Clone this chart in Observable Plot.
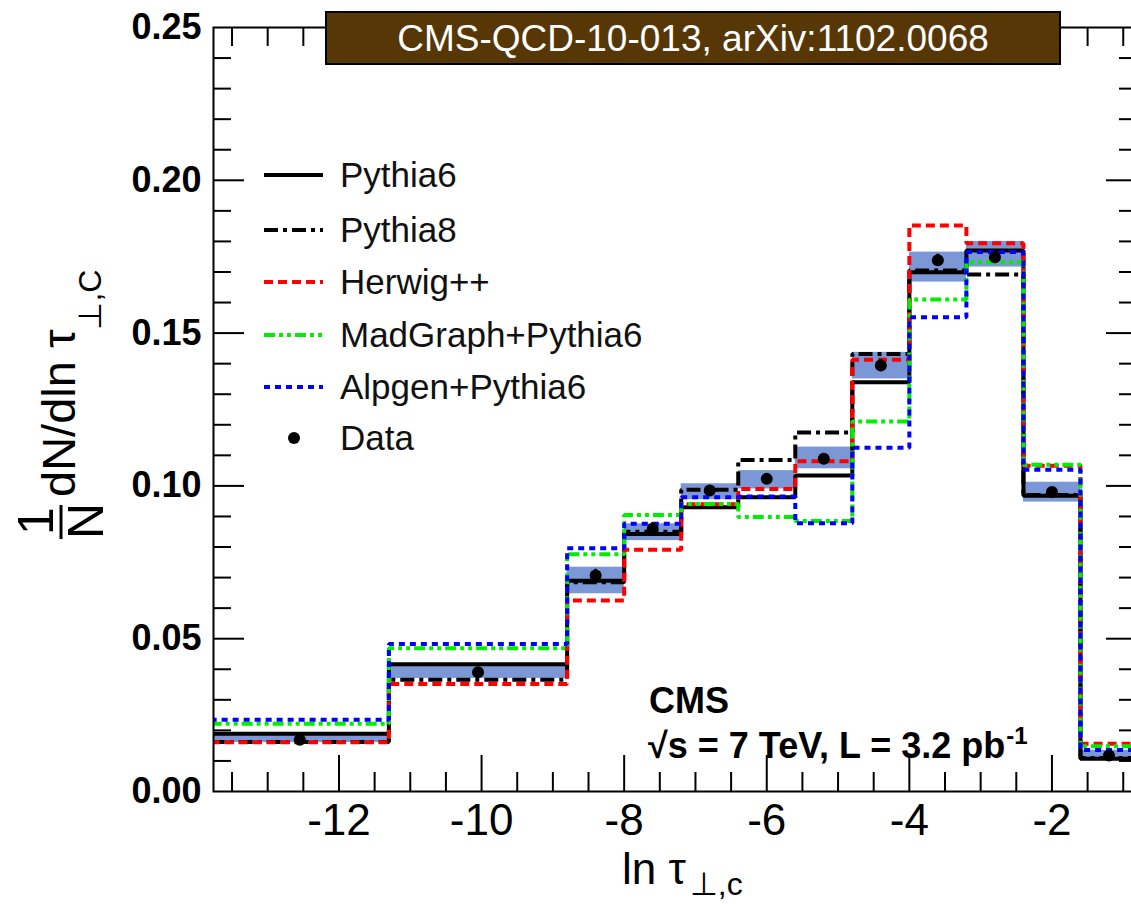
<!DOCTYPE html>
<html>
<head>
<meta charset="utf-8">
<script src="https://cdn.jsdelivr.net/npm/d3@7"></script>
<script src="https://cdn.jsdelivr.net/npm/@observablehq/plot@0.6"></script>
<style>
  html, body { margin: 0; padding: 0; background: #fff; overflow: hidden; }
  #chart { position: relative; width: 1131px; height: 904px; overflow: hidden; }
  #chart svg { max-width: none !important; font-family: "Liberation Sans", Arial, Helvetica, sans-serif; }
</style>
</head>
<body>
<div id="chart"></div>
<script>
// ---- data ----
const binEdges = [-13.8, -11.3, -8.8, -8.0, -7.2, -6.4, -5.6, -4.8, -4.0, -3.2, -2.4, -1.6, -0.8];
const pythia6  = [0.0189, 0.0416, 0.0690, 0.0843, 0.0930, 0.0963, 0.1034, 0.1339, 0.1699, 0.1770, 0.0968, 0.0107];
const pythia8  = [0.0162, 0.0366, 0.0685, 0.0850, 0.0987, 0.1085, 0.1175, 0.1432, 0.1705, 0.1692, 0.0970, 0.0110];
const herwig   = [0.0161, 0.0352, 0.0625, 0.0791, 0.0940, 0.0990, 0.1081, 0.1413, 0.1852, 0.1794, 0.1066, 0.0156];
const madgraph = [0.0222, 0.0469, 0.0776, 0.0905, 0.0941, 0.0898, 0.0885, 0.1211, 0.1610, 0.1732, 0.1069, 0.0148];
const alpgen   = [0.0235, 0.0483, 0.0796, 0.0876, 0.0963, 0.0965, 0.0878, 0.1125, 0.1552, 0.1765, 0.1053, 0.0136];
const dataVal  = [0.0169, 0.0390, 0.0707, 0.0860, 0.0985, 0.1023, 0.1089, 0.1394, 0.1738, 0.1748, 0.0980, 0.0118];
const dataErr  = [0.0010, 0.0015, 0.0020, 0.0020, 0.0015, 0.0015, 0.0015, 0.0020, 0.0020, 0.0020, 0.0010, 0.0008];
const bandLo   = [0.0160, 0.0370, 0.0647, 0.0821, 0.0955, 0.0990, 0.1056, 0.1350, 0.1667, 0.1716, 0.0947, 0.0110];
const bandHi   = [0.0185, 0.0416, 0.0734, 0.0876, 0.1007, 0.1050, 0.1127, 0.1437, 0.1765, 0.1800, 0.1012, 0.0135];

const xTickLabels = [-12, -10, -8, -6, -4, -2];
const yTickLabels = [0, 0.05, 0.10, 0.15, 0.20, 0.25];
const xDomain = [-13.76, -0.8];
const yDomain = [0, 0.25];

const series = [
  {name: "Pythia6",          values: pythia6,  stroke: "#000000", dash: null},
  {name: "Pythia8",          values: pythia8,  stroke: "#000000", dash: "14,5,4,5"},
  {name: "Herwig++",         values: herwig,   stroke: "#ff0000", dash: "9,5"},
  {name: "MadGraph+Pythia6", values: madgraph, stroke: "#00ee00", dash: "11,4,4,4,4,4"},
  {name: "Alpgen+Pythia6",   values: alpgen,   stroke: "#0000ff", dash: "6,5"}
];

// ---- derived tables ----
const bins = dataVal.map((v, i) => ({
  x1: binEdges[i], x2: binEdges[i + 1], xc: (binEdges[i] + binEdges[i + 1]) / 2,
  v, err: dataErr[i], lo: bandLo[i], hi: bandHi[i]
}));
function steps(vals) {
  const pts = vals.map((v, i) => ({x: binEdges[i], y: v}));
  pts.push({x: binEdges[binEdges.length - 1], y: vals[vals.length - 1]});
  return pts;
}
const xMajor = d3.range(-12, -1, 2);
const xMinor = d3.range(-13.5, -0.9, 0.5).filter(v => !xMajor.includes(v));
const yMajor = [0.05, 0.10, 0.15, 0.20];
const yMinor = d3.range(1, 25).map(k => k / 100).filter(v => Math.round(v * 100) % 5 !== 0);

const W = 1140, H = 904;
const xL = xDomain[0], xR = xDomain[1], yB = yDomain[0], yT = yDomain[1];

const tickMarks = [];
tickMarks.push(Plot.ruleX(xMajor, {x: d => d, y1: () => yB, y2: () => yB, insetBottom: 36, stroke: "black", strokeWidth: 2}));
tickMarks.push(Plot.ruleX(xMinor, {x: d => d, y1: () => yB, y2: () => yB, insetBottom: 19, stroke: "black", strokeWidth: 2}));
tickMarks.push(Plot.ruleX(xMajor, {x: d => d, y1: () => yT, y2: () => yT, insetTop: 36, stroke: "black", strokeWidth: 2}));
tickMarks.push(Plot.ruleX(xMinor, {x: d => d, y1: () => yT, y2: () => yT, insetTop: 19, stroke: "black", strokeWidth: 2}));
tickMarks.push(Plot.ruleY(yMajor, {y: d => d, x1: () => xL, x2: () => xL, insetRight: -31, stroke: "black", strokeWidth: 2}));
tickMarks.push(Plot.ruleY(yMinor, {y: d => d, x1: () => xL, x2: () => xL, insetRight: -18, stroke: "black", strokeWidth: 2}));
tickMarks.push(Plot.ruleY(yMajor, {y: d => d, x1: () => xR, x2: () => xR, insetLeft: -31, stroke: "black", strokeWidth: 2}));
tickMarks.push(Plot.ruleY(yMinor, {y: d => d, x1: () => xR, x2: () => xR, insetLeft: -18, stroke: "black", strokeWidth: 2}));

const plot = Plot.plot({
  width: W, height: H,
  marginLeft: 213, marginRight: 3, marginTop: 27, marginBottom: 113,
  x: {domain: xDomain, label: null},
  y: {domain: yDomain, label: null},
  style: {fontFamily: "Liberation Sans, Arial, sans-serif", background: "white", overflow: "visible", maxWidth: "none"},
  marks: [
    Plot.rect(bins, {x1: "x1", x2: "x2", y1: "lo", y2: "hi", fill: "#7b97d6", clip: true}),
    ...series.map(s => Plot.line(steps(s.values), {
      x: "x", y: "y", curve: "step-after", stroke: s.stroke, strokeWidth: 4,
      strokeDasharray: s.dash, strokeLinejoin: "miter", strokeLinecap: "butt", clip: true
    })),
    Plot.ruleX(bins, {x: "xc", y1: d => d.v - d.err, y2: d => d.v + d.err, stroke: "black", strokeWidth: 3}),
    Plot.dot(bins, {x: "xc", y: "v", r: 6, fill: "black", stroke: "none"}),
    ...tickMarks,
    Plot.frame({stroke: "black", strokeWidth: 2}),
    Plot.axisX(xTickLabels, {anchor: "bottom", tickSize: 0, tickPadding: 12, fontSize: 44, tickFormat: d => String(d), label: null}),
    Plot.axisY(yTickLabels, {anchor: "left", tickSize: 0, tickPadding: 12, fontSize: 36, fontWeight: "bold", tickFormat: d3.format(".2f"), label: null})
  ]
});
document.getElementById("chart").appendChild(plot);

// ---- annotations: legend, axis titles, CMS label, header box ----
const svg = d3.select(plot);
const ff = "Liberation Sans, Arial, sans-serif";

// legend
const legendRows = [175, 230, 282, 335, 387];
const lg = svg.append("g").attr("text-anchor", "start");
series.forEach((s, i) => {
  lg.append("line").attr("x1", 264).attr("x2", 323).attr("y1", legendRows[i]).attr("y2", legendRows[i])
    .attr("stroke", s.stroke).attr("stroke-width", 4).attr("stroke-dasharray", s.dash);
  lg.append("text").attr("x", 340).attr("y", legendRows[i] + 12).attr("font-size", 35)
    .attr("font-family", ff).attr("fill", "#111").text(s.name);
});
lg.append("circle").attr("cx", 294).attr("cy", 438).attr("r", 6).attr("fill", "black");
lg.append("text").attr("x", 340).attr("y", 450).attr("font-size", 35).attr("font-family", ff).attr("fill", "#111").text("Data");

// x title
const xt = svg.append("text").attr("font-family", ff).attr("fill", "black").attr("text-anchor", "start")
  .attr("x", 622).attr("y", 884).attr("font-size", 44);
xt.append("tspan").text("ln τ");
xt.append("tspan").attr("dy", 11).attr("dx", 4).attr("font-size", 32).text("⊥,c");

// y title (rotated)
const yt = svg.append("g").attr("font-family", ff).attr("fill", "black").attr("text-anchor", "start");
yt.append("text").attr("transform", "translate(53,521) rotate(-90)").attr("text-anchor", "middle").attr("font-size", 50).text("1");
yt.append("line").attr("x1", 61).attr("x2", 61).attr("y1", 505).attr("y2", 539).attr("stroke", "black").attr("stroke-width", 3);
yt.append("text").attr("transform", "translate(103,521) rotate(-90)").attr("text-anchor", "middle").attr("font-size", 50).text("N");
const ytt = yt.append("text").attr("transform", "translate(75,497) rotate(-90)").attr("font-size", 47);
ytt.append("tspan").text("dN/dln τ");
ytt.append("tspan").attr("dy", 26).attr("font-size", 32).text("⊥,C");

// CMS label
const cms = svg.append("g").attr("font-family", ff).attr("font-weight", "bold").attr("fill", "black").attr("text-anchor", "start");
cms.append("text").attr("x", 649).attr("y", 713).attr("font-size", 36).text("CMS");
const l2 = cms.append("text").attr("x", 648).attr("y", 758).attr("font-size", 36);
l2.append("tspan").text("√s = 7 TeV, L = 3.2 pb");
l2.append("tspan").attr("dy", -14).attr("dx", 1).attr("font-size", 24).text("-1");

// header box
svg.append("rect").attr("x", 326).attr("y", 12).attr("width", 734).attr("height", 52)
  .attr("fill", "#563705").attr("stroke", "black").attr("stroke-width", 2);
svg.append("text").attr("x", 693).attr("y", 51).attr("text-anchor", "middle").attr("font-size", 37)
  .attr("font-family", ff).attr("fill", "white").text("CMS-QCD-10-013, arXiv:1102.0068");
</script>
</body>
</html>
